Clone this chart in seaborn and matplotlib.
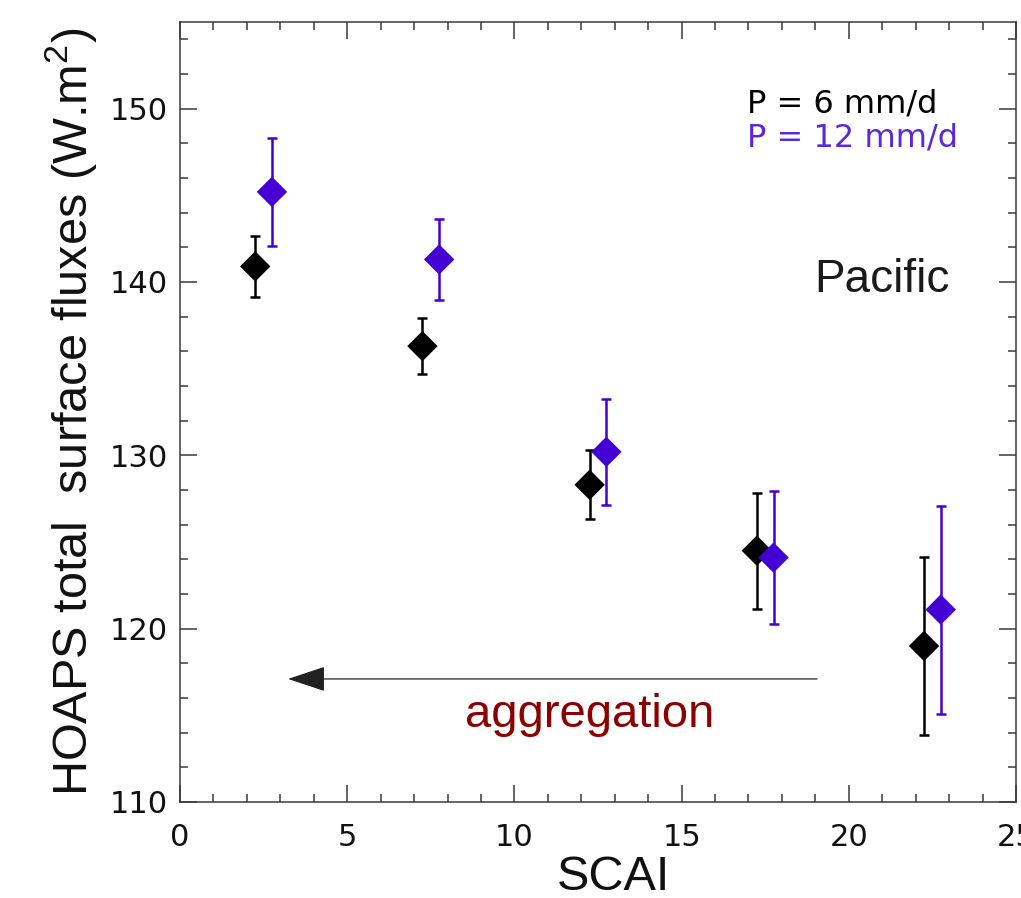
import numpy as np
import pandas as pd
import matplotlib
matplotlib.use("Agg")
import matplotlib.pyplot as plt
import seaborn as sns
from matplotlib.ticker import MultipleLocator

# Valeurs (SCAI vs flux HOAPS)
scai_6 = [2.25, 7.25, 12.25, 17.25, 22.25]
flux_6 = [140.9, 136.3, 128.3, 124.5, 119.0]
err_6 = [1.75, 1.6, 2.0, 3.35, 5.15]

scai_12 = [2.75, 7.75, 12.75, 17.75, 22.75]
flux_12 = [145.2, 141.3, 130.2, 124.1, 121.1]
err_12 = [3.1, 2.35, 3.05, 3.85, 6.0]

labels = ["P = 6 mm/d", "P = 12 mm/d"]
black = "#000000"
purple = "#4400D4"

df = pd.DataFrame({
    "SCAI": scai_6 + scai_12,
    "flux": flux_6 + flux_12,
    "err": err_6 + err_12,
    "P": [labels[0]] * len(scai_6) + [labels[1]] * len(scai_12),
})

sns.set_theme(style="ticks")
plt.rcParams["font.family"] = ["DejaVu Sans"]
plt.rcParams["mathtext.fontset"] = "custom"
plt.rcParams["mathtext.rm"] = "Liberation Sans"

fig = plt.figure(figsize=(10.21, 8.98), dpi=100)
ax = fig.add_axes([180 / 1021, 96 / 898, 836 / 1021, 780 / 898])

# barres d'erreur
for lab, col in zip(labels, [black, purple]):
    d = df[df["P"] == lab]
    ax.errorbar(d["SCAI"], d["flux"], yerr=d["err"], fmt="none", ecolor=col,
                elinewidth=1.8, capsize=3.3, capthick=1.8, zorder=2)

sns.scatterplot(data=df, x="SCAI", y="flux", hue="P", palette=[black, purple],
                marker="D", s=240, edgecolor="none", legend=False, ax=ax, zorder=3)

ax.set_xlim(0, 25)
ax.set_ylim(110, 155)
ax.xaxis.set_major_locator(MultipleLocator(5))
ax.xaxis.set_minor_locator(MultipleLocator(1))
ax.yaxis.set_major_locator(MultipleLocator(10))
ax.yaxis.set_minor_locator(MultipleLocator(2))

spine_col = "#3a3a3a"
for sp in ax.spines.values():
    sp.set_color(spine_col)
    sp.set_linewidth(1.1)
ax.tick_params(which="both", direction="in", top=True, right=True, color=spine_col, width=1.1)
ax.tick_params(which="major", length=12)
ax.tick_params(which="minor", length=6)
ax.tick_params(axis="x", which="major", labelsize=22, pad=15, labelcolor="#111111")
ax.tick_params(axis="y", which="major", labelsize=22, pad=9, labelcolor="#111111")

ax.set_xlabel("SCAI", fontsize=35, family="Liberation Sans", color="#111111")
ax.set_ylabel("HOAPS total  surface fluxes (W.m$^2$)", fontsize=35,
              family="Liberation Sans", color="#111111")
ax.xaxis.set_label_coords(0.519, -0.068)
ax.yaxis.set_label_coords(-0.096, 0.5)

# légende texte
ax.text(0.678, 0.884, labels[0], transform=ax.transAxes, fontsize=23, color=black,
        ha="left", va="baseline")
ax.text(0.678, 0.840, labels[1], transform=ax.transAxes, fontsize=23, color="#5a28dc",
        ha="left", va="baseline")

ax.text(0.759, 0.654, "Pacific", transform=ax.transAxes, fontsize=33,
        family="Liberation Sans", color="#1a1a1a", ha="left", va="baseline")

# flèche d'agrégation
ax.annotate("", xy=(3.23, 117.1), xytext=(19.05, 117.1),
            arrowprops=dict(arrowstyle="-|>,head_length=24,head_width=8",
                            mutation_scale=1, color="#222222", lw=0.9,
                            shrinkA=0, shrinkB=0))
ax.text(12.25, 114.3, "aggregation", fontsize=34, family="Liberation Sans",
        color="#8b0000", ha="center", va="baseline")

fig.savefig("out.png", dpi=100)
